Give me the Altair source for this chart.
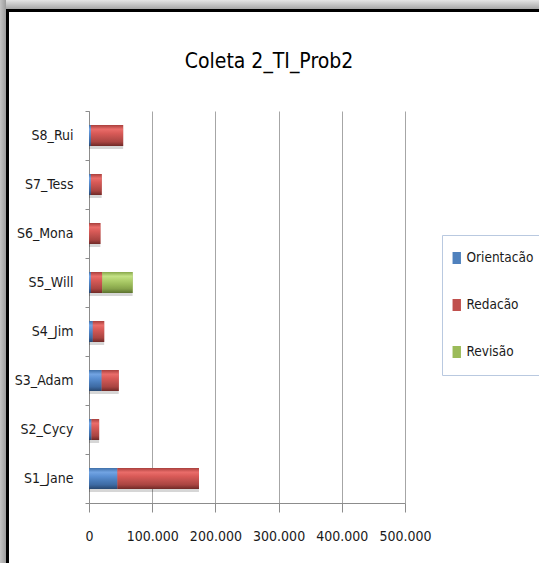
import altair as alt
import pandas as pd

# Stacked time per student and activity
chart_title = "Coleta 2_TI_Prob2"
names = ["S1_Jane", "S2_Cycy", "S3_Adam", "S4_Jim", "S5_Will", "S6_Mona", "S7_Tess", "S8_Rui"]
series = ["Orientacão", "Redacão", "Revisão"]
orientacao = [45000, 4000, 20000, 6000, 3000, 0, 3000, 3000]
redacao = [129000, 12000, 27000, 18000, 18000, 18000, 17000, 51000]
revisao = [0, 0, 0, 0, 48000, 0, 0, 0]
x_ticks = [0, 100000, 200000, 300000, 400000, 500000]

colors = ["#4f81bd", "#c0504d", "#9bbb59"]
FONT = "DejaVu Sans Condensed"

rows = []
for i, n in enumerate(names):
    for k, (s, vals) in enumerate(zip(series, [orientacao, redacao, revisao])):
        rows.append({"aluno": n, "serie": s, "ordem": k, "valor": vals[i]})
df = pd.DataFrame(rows)


def vgrad(stops, horizontal=False):
    n = len(stops) - 1
    return alt.Gradient(
        gradient="linear",
        x1=0, y1=0,
        x2=1 if horizontal else 0,
        y2=0 if horizontal else 1,
        stops=[alt.GradientStop(offset=i / n, color=c) for i, c in enumerate(stops)],
    )


bevels = {
    "Orientacão": vgrad(["#3f6fa8", "#72a4e3", "#5a8fd2", "#4a7cba", "#3d6aa3", "#28476f"]),
    "Redacão": vgrad(["#a83f3c", "#ea6d6a", "#d85a57", "#c0504d", "#a94441", "#6f2927"]),
    "Revisão": vgrad(["#87a74a", "#c4e286", "#afcf6c", "#9bbb59", "#86a34a", "#5c722f"]),
}

x_axis = alt.Axis(
    values=x_ticks,
    labelExpr="replace(format(datum.value, ','), ',', '.')",
    title=None,
    grid=True,
    gridColor="#a6a6a6",
    domainColor="#8c8c8c",
    tickColor="#8c8c8c",
    tickSize=9,
    labelPadding=17,
    labelFontSize=14,
    labelFont=FONT,
    labelColor="#1a1a1a",
    labelFlush=False,
    labelOverlap=False,
)
x_scale = alt.Scale(domain=[0, 500000], nice=False)

y_enc = alt.Y(
    "aluno:N",
    sort=list(reversed(names)),
    scale=alt.Scale(paddingInner=0, paddingOuter=0),
    axis=alt.Axis(
        title=None,
        tickBand="extent",
        tickSize=4,
        tickColor="#8c8c8c",
        domainColor="#8c8c8c",
        labelPadding=12,
        labelFontSize=14,
        labelFont=FONT,
        labelColor="#1a1a1a",
    ),
)

stacked = alt.Chart(df).transform_filter("datum.valor > 0").transform_stack(
    stack="valor", groupby=["aluno"], as_=["x0", "x1"], sort=[alt.SortField("ordem")]
)

shadow = alt.Chart(df).transform_aggregate(
    total="sum(valor)", groupby=["aluno"]
).mark_bar(size=21, color="#000000", opacity=0.16, yOffset=3, x2Offset=3).encode(
    x=alt.X("total:Q", scale=x_scale, axis=x_axis),
    y=y_enc,
)

base = stacked.mark_bar(size=21).encode(
    x=alt.X("x0:Q", scale=x_scale, axis=x_axis),
    x2="x1:Q",
    y=y_enc,
    color=alt.Color(
        "serie:N",
        scale=alt.Scale(domain=series, range=colors),
        legend=alt.Legend(
            title=None,
            orient="none",
            legendX=353,
            legendY=124,
            strokeColor="#b9c9e0",
            fillColor="white",
            padding=8,
            clipHeight=30,
            rowPadding=17,
            labelFontSize=13.5,
            labelFont=FONT,
            labelColor="#1a1a1a",
            labelOffset=3,
            symbolType="M-0.7,-1H0.7V1H-0.7Z",
            symbolSize=144,
            symbolStrokeWidth=0,
        ),
    ),
)

overlays = [
    stacked.transform_filter(alt.datum.serie == s).mark_bar(size=21, color=bevels[s]).encode(
        x=alt.X("x0:Q", scale=x_scale, axis=x_axis), x2="x1:Q", y=y_enc
    )
    for s in series
]

# Framing strips along the top and left edges, and the heading above the plot
one = pd.DataFrame({"k": [0]})
frame = [
    alt.Chart(one).mark_rect(color=vgrad(["#e4e4e4", "#a6a6a6"])).encode(
        x=alt.value(-89), x2=alt.value(450), y=alt.value(-111), y2=alt.value(-102)
    ),
    alt.Chart(one).mark_rect(color=vgrad(["#c4c4c4", "#9c9c9c"], horizontal=True)).encode(
        x=alt.value(-89), x2=alt.value(-83), y=alt.value(-111), y2=alt.value(452)
    ),
    alt.Chart(one).mark_rect(color="#000000").encode(
        x=alt.value(-83), x2=alt.value(450), y=alt.value(-102), y2=alt.value(-99)
    ),
    alt.Chart(one).mark_rect(color="#000000").encode(
        x=alt.value(-83), x2=alt.value(-80), y=alt.value(-102), y2=alt.value(452)
    ),
    alt.Chart(one).mark_text(
        text=chart_title,
        font=FONT,
        fontSize=21,
        color="#000000",
        align="center",
        baseline="alphabetic",
    ).encode(x=alt.value(180), y=alt.value(-43)),
]

chart = alt.layer(shadow, base, *overlays, *frame).properties(
    width=316,
    height=392,
    padding={"left": 89, "top": 111, "right": 134, "bottom": 60},
    autosize=alt.AutoSizeParams(type="none"),
    background="white",
).configure_view(stroke="transparent")

chart.save("out.html", embed_options={"renderer": "svg", "actions": False})
